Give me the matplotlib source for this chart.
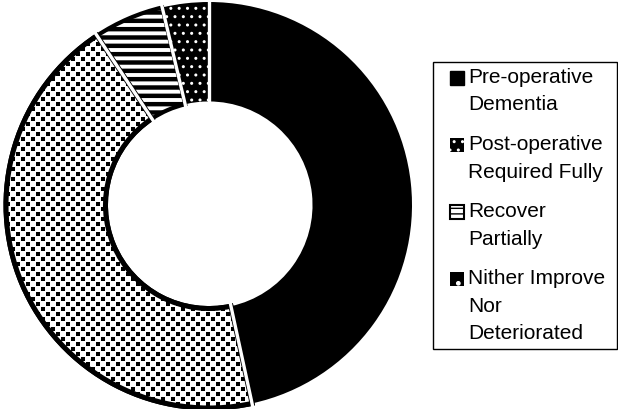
import matplotlib
matplotlib.use("Agg")
import numpy as np
import matplotlib.pyplot as plt
from matplotlib.patches import Patch, Rectangle
from matplotlib.legend_handler import HandlerPatch

labels = ["Pre-operative\nDementia", "Post-operative\nRequired Fully",
          "Recover\nPartially", "Nither Improve\nNor\nDeteriorated"]
values = [46.6, 44.1, 5.6, 3.7]

faces = ["black", "white", "white", "black"]
edges = ["white", "black", "black", "white"]
hatches = [None, None, "--", ".."]
hatch_lws = [1.0, 1.0, 3.2, 1.0]
edge_lws = [0, 3.6, 3.0, 0]

plt.rcParams['font.family'] = ['Liberation Sans', 'DejaVu Sans']

fig = plt.figure(figsize=(6.18, 4.09), dpi=100)
R = 203
ax = fig.add_axes([(209 - R) / 618, (204 - R) / 409, 2 * R / 618, 2 * R / 409])

WIDTH = 0.49
wedges, _ = ax.pie(values, startangle=90, counterclock=False, radius=1.0,
                   wedgeprops=dict(width=WIDTH))
for w, fc, ec, h, hl, el in zip(wedges, faces, edges, hatches, hatch_lws, edge_lws):
    w.set_facecolor(fc)
    w.set_edgecolor(ec)
    w.set_linewidth(el)
    if h:
        w.set_hatch(h)
    if hasattr(w, "set_hatch_linewidth"):
        w.set_hatch_linewidth(hl)
    if el > 0:
        w.set_clip_path(w)

# checkered-square texture for the "Post-operative" slice
N = 2 * R
yy, xx = np.mgrid[0:N, 0:N]
P, S = 10, 4
tex = ~((((xx % P) < S) & ((yy % P) < S)) |
        ((((xx + P // 2) % P) < S) & (((yy + P // 2) % P) < S)))
img = ax.imshow(tex.astype(float), cmap="gray", vmin=0, vmax=1,
                extent=(-1, 1, -1, 1), interpolation="nearest", zorder=1.5)
img.set_clip_path(wedges[1])
# border on top of texture
border, _ = ax.pie(values, startangle=90, counterclock=False, radius=1.0,
                   wedgeprops=dict(width=WIDTH, facecolor="none", linewidth=0))
for i, b in enumerate(border):
    if i == 1:
        b.set_edgecolor("black")
        b.set_linewidth(edge_lws[1])
        b.set_clip_path(b)
        b.set_zorder(2)
    else:
        b.set_visible(False)

# white radial separators at slice boundaries
frac = np.cumsum([0] + values[:-1]) / np.sum(values)
ang = np.deg2rad(90 - 360 * frac)
for a in ang:
    ax.plot([(1 - WIDTH - 0.02) * np.cos(a), 1.02 * np.cos(a)],
            [(1 - WIDTH - 0.02) * np.sin(a), 1.02 * np.sin(a)],
            color="white", lw=2.4, solid_capstyle="butt", zorder=5)

ax.set_xlim(-1.0, 1.0)
ax.set_ylim(-1.0, 1.0)
ax.set_aspect("auto")
ax.axis("off")

FS = 15
n_lines = [lab.count("\n") + 1 for lab in labels]
LINE_PT = 19.9
SW = 10.0  # swatch size in points


class TopHandler(HandlerPatch):
    def __init__(self, nl):
        super().__init__()
        self.nl = nl

    def create_artists(self, legend, orig_handle, xdescent, ydescent,
                       width, height, fontsize, trans):
        off = (self.nl - 1) * LINE_PT / 2
        p = Rectangle((-xdescent + width - SW, -ydescent + off + (height - SW) / 2), SW, SW,
                      facecolor=orig_handle.get_facecolor(),
                      edgecolor=orig_handle.get_edgecolor(),
                      hatch=orig_handle.get_hatch(),
                      linewidth=orig_handle.get_linewidth())
        p.set_transform(trans)
        return [p]


leg_faces = ["black", "black", "white", "black"]
leg_edges = ["black", "white", "black", "white"]
leg_hatch = [None, "..", "---", "."]
leg_lw = [1, 0, 1.5, 0]
handles = []
hmap = {}
for fc, ec, h, lw, nl in zip(leg_faces, leg_edges, leg_hatch, leg_lw, n_lines):
    p = Patch(facecolor=fc, edgecolor=ec, hatch=h, linewidth=lw)
    handles.append(p)
    hmap[p] = TopHandler(nl)

leg = fig.legend(handles, labels, loc="upper left", handler_map=hmap, mode="expand",
                 bbox_to_anchor=(433 / 618, 0, 184 / 618, 1 - 62 / 409),
                 bbox_transform=fig.transFigure,
                 fontsize=FS, frameon=True, fancybox=False, framealpha=1,
                 edgecolor="black", handlelength=1.2, handleheight=0.6,
                 handletextpad=0.2, labelspacing=1.0, borderpad=0.3, borderaxespad=0)
leg.get_frame().set_linewidth(1.0)
for t in leg.get_texts():
    t.set_linespacing(1.55)

fig.savefig("out.png", dpi=100)
